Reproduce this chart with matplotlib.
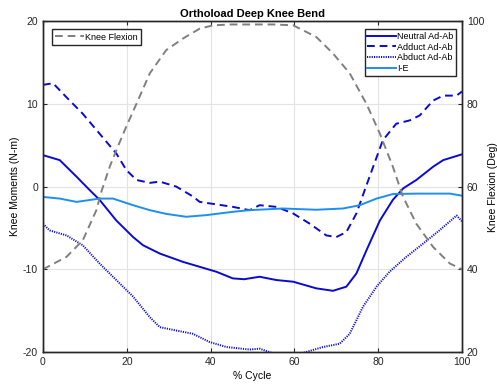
import matplotlib
matplotlib.use("Agg")
import matplotlib.pyplot as plt

plt.rcParams['font.family'] = ['Liberation Sans', 'DejaVu Sans']
plt.rcParams['axes.unicode_minus'] = False

# Knee flexion (deg, right axis)
kf_x = [0, 5.6, 9.5, 12.7, 14, 16, 18, 20, 22.3, 25.5, 29.4, 33.4, 37.4, 40.6, 45, 50, 55, 59.7,
        65.2, 69.2, 73.2, 77.2, 80.4, 83.5, 85.9, 89.1, 93.1, 97.1, 100]
kf_y = [40, 43, 47, 54.2, 59, 65, 70, 74.8, 80, 87.4, 93, 95.8, 98.2, 99, 99.2, 99.2, 99.2, 99,
        96.2, 92.2, 87.4, 80, 72.8, 64.8, 57.6, 51, 45.4, 41.4, 40]

# Neutral Ad-Ab
ne_x = [0, 4, 8, 11.1, 13.5, 17.5, 21.5, 23.9, 27.9, 33.4, 37.4, 41.4, 45.3, 48, 51.7, 55.7,
        59.7, 65.2, 69.2, 72.4, 74.8, 77.2, 80.4, 83.5, 86, 89.1, 93.1, 95.5, 100]
ne_y = [3.8, 3.2, 1.2, -0.4, -1.6, -4.1, -6.1, -7.1, -8.1, -9.1, -9.7, -10.3, -11.1, -11.2, -10.9,
        -11.3, -11.5, -12.3, -12.6, -12.1, -10.5, -7.7, -4.1, -1.6, -0.2, 0.8, 2.4, 3.2, 3.9]

# Adduct Ad-Ab
ad_x = [0, 2.4, 5.6, 9.5, 13.5, 17.5, 19.9, 22.3, 25.5, 27.9, 31.8, 35.8, 37.4, 45.3, 49.3, 51.7,
        55.7, 59.7, 63.7, 67.6, 70, 72.4, 74.8, 76.8, 78.8, 81.1, 84.3, 87.5, 89.9, 93.1, 95.5,
        98.7, 100]
ad_y = [12.3, 12.5, 10.8, 8.8, 6.4, 4.0, 2.0, 0.8, 0.45, 0.6, 0.0, -1.2, -1.85, -2.45, -2.85,
        -2.25, -2.45, -3.25, -4.5, -5.9, -6.1, -5.5, -3.25, -0.4, 2.4, 5.6, 7.6, 8.0, 8.6, 10.4,
        11.0, 11.0, 11.5]

# Abduct Ad-Ab
ab_x = [0, 1.6, 5.6, 9.5, 13.5, 17.5, 21.5, 25.5, 27.9, 31.8, 35.8, 39.8, 43.8, 49.3, 51.7,
        55.7, 59, 62.8, 66.8, 70.8, 73.2, 76.4, 79.6, 82.7, 86.7, 90.7, 94.6, 98.7, 100]
ab_y = [-4.5, -5.3, -5.9, -7.1, -9.3, -11.3, -13.3, -15.8, -17.0, -17.4, -17.8, -18.8, -19.4,
        -19.7, -19.6, -20.3, -20.6, -20.0, -19.4, -19.0, -17.8, -14.5, -12.1, -10.3, -8.5, -6.9,
        -5.3, -3.5, -4.2]

# I-E
ie_x = [0, 4, 8, 13.5, 16.7, 21.5, 25.5, 29.4, 34.2, 39, 45.3, 49.3, 57.3, 65.2, 71.6, 75.6,
        79.6, 83.5, 89.1, 97.1, 100]
ie_y = [-1.25, -1.45, -1.85, -1.45, -1.45, -2.25, -2.85, -3.3, -3.65, -3.45, -3.05, -2.85,
        -2.65, -2.8, -2.65, -2.25, -1.45, -0.9, -0.85, -0.85, -1.1]

fig = plt.figure(figsize=(4.97, 3.85), dpi=100)
ax = fig.add_axes([0.0865, 0.0857, 0.8431, 0.8593])
ax2 = ax.twinx()

dark = '#0a0ad2'
light = '#1e8ff0'
l1, = ax.plot(ne_x, ne_y, color=dark, lw=1.4, label='Neutral Ad-Ab')
l2, = ax.plot(ad_x, ad_y, color=dark, lw=1.4, ls=(0, (4, 2.5)), label='Adduct Ad-Ab')
l3, = ax.plot(ab_x, ab_y, color=dark, lw=1.4, ls=(0, (0.6, 0.6)), label='Abduct Ad-Ab')
l4, = ax.plot(ie_x, ie_y, color=light, lw=1.4, label='I-E')
lk, = ax2.plot(kf_x, kf_y, color='#808080', lw=1.4, ls=(0, (4, 2.5)), label='Knee Flexion')

ax.set_xlim(0, 100)
ax.set_ylim(-20, 20)
ax2.set_ylim(20, 100)
ax.set_xticks([0, 20, 40, 60, 80, 100])
ax.set_yticks([-20, -10, 0, 10, 20])
ax2.set_yticks([20, 40, 60, 80, 100])
ax.grid(True, color='#e3e3e3', lw=0.8)
ax.set_axisbelow(True)

for a in (ax, ax2):
    a.tick_params(direction='in', labelsize=7.5, length=3, width=0.8, colors='#262626')
    for s in a.spines.values():
        s.set_linewidth(1.0)
        s.set_color('#262626')
ax.tick_params(top=True)

ax.set_xlabel('% Cycle', fontsize=7.5, labelpad=3)
ax.set_ylabel('Knee Moments (N-m)', fontsize=7.5, labelpad=2)
ax2.set_ylabel('Knee Flexion (Deg)', fontsize=7.5, labelpad=3)
ax.set_title('Orthoload Deep Knee Bend', fontsize=8, fontweight='bold', pad=3)

leg1 = ax2.legend(handles=[lk], loc='upper left', bbox_to_anchor=(0.01, 0.99), fontsize=6.5,
                  fancybox=False, edgecolor='#262626', framealpha=1, handlelength=3.2,
                  handletextpad=0.1, borderpad=0.4)
ax2.add_artist(leg1)
ax2.legend(handles=[l1, l2, l3, l4], loc='upper right', bbox_to_anchor=(0.997, 0.99),
           fontsize=6.5, fancybox=False, edgecolor='#262626', framealpha=1, handlelength=3.2,
           handletextpad=0.1, borderpad=0.3, labelspacing=0.2)

fig.savefig('out.png', dpi=100)
